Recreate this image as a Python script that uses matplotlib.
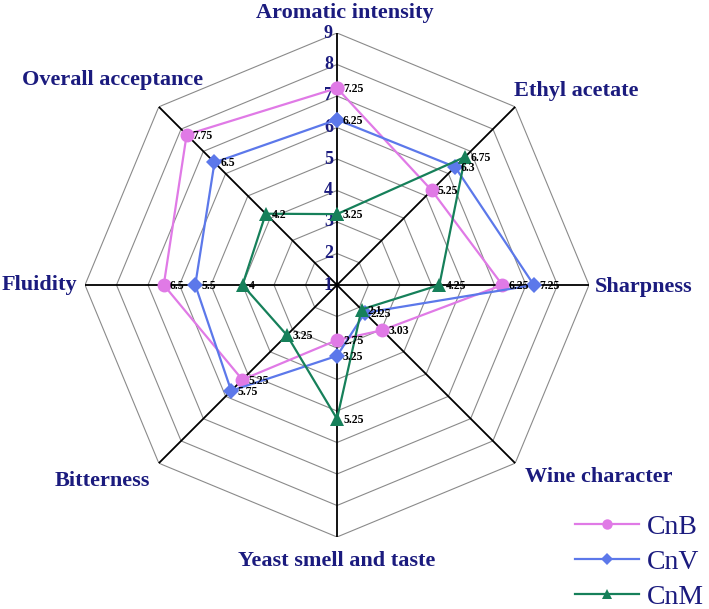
import matplotlib
matplotlib.use("Agg")
import matplotlib.pyplot as plt
import numpy as np

plt.rcParams['font.family'] = ['Liberation Serif', 'DejaVu Serif']

# data
categories = ['Aromatic intensity', 'Ethyl acetate', 'Sharpness', 'Wine character',
              'Yeast smell and taste', 'Bitterness', 'Fluidity', 'Overall acceptance']
cnb = [7.25, 5.25, 6.25, 3.03, 2.75, 5.25, 6.5, 7.75]
cnv = [6.25, 6.3, 7.25, 2.25, 3.25, 5.75, 5.5, 6.5]
cnm = [3.25, 6.75, 4.25, 2.1, 5.25, 3.25, 4, 4.2]
cnb_labels = ['7.25', '5.25', '6.25', '3.03', '2.75', '5.25', '6.5', '7.75']
cnv_labels = ['6.25', '6.3', '7.25', '2.25', '3.25', '5.75', '5.5', '6.5']
cnm_labels = ['3.25', '6.75', '4.25', '2.1', '5.25', '3.25', '4', '4.2']
ticks = [1, 2, 3, 4, 5, 6, 7, 8, 9]

navy = '#1B1B7E'
n = len(categories)
theta = np.arange(n) * 2 * np.pi / n
theta_c = np.append(theta, theta[0])

fig = plt.figure(figsize=(7.09, 6.09), dpi=100)
ax = fig.add_axes([85 / 709, 72 / 609, 504 / 709, 504 / 609], projection='polar')
ax.set_theta_zero_location('N')
ax.set_theta_direction(-1)
ax.set_ylim(1, 9)
ax.grid(False)
ax.spines['polar'].set_visible(False)
ax.set_xticks([])
ax.set_yticks([])
ax.patch.set_visible(False)

# octagon grid
for t in ticks[1:]:
    ax.plot(theta_c, [t] * (n + 1), color='#8a8a8a', lw=0.8, zorder=1)
for th in theta:
    ax.plot([th, th], [1, 9], color='black', lw=1.3, zorder=2)

# radial tick labels along the top spoke
for t in ticks:
    ax.annotate(str(t), xy=(0, t), xytext=(-4, 0), textcoords='offset pixels',
                ha='right', va='center', fontsize=13, fontweight='bold', color=navy, zorder=3)

# category labels (offsets in pixels from the outer vertex)
offsets = [(8, 20), (61, 16), (55, -2), (84, -14), (0, -24), (-56, -18), (-46, 0), (-46, 27)]
for th, lab, off in zip(theta, categories, offsets):
    ax.annotate(lab, xy=(th, 9), xytext=off, textcoords='offset pixels',
                ha='center', va='center', fontsize=16, fontweight='bold',
                color=navy, annotation_clip=False)

series = [
    ('CnB', cnb, cnb_labels, '#E07AE6', 'o', 10),
    ('CnV', cnv, cnv_labels, '#5C78EA', 'D', 8),
    ('CnM', cnm, cnm_labels, '#16805A', '^', 9.5),
]
for name, vals, labs, col, mk, ms in series:
    ax.plot(theta_c, vals + vals[:1], color=col, lw=1.6, marker=mk, ms=ms,
            markeredgewidth=0, label=name, zorder=4)
    for th, v, s in zip(theta, vals, labs):
        ax.annotate(s, xy=(th, v), xytext=(6, -1), textcoords='offset pixels',
                    ha='left', va='center', fontsize=8.5, fontweight='bold',
                    color='black', zorder=5)

leg = fig.legend(loc='center left', bbox_to_anchor=(575 / 709, 1 - 562 / 609),
                 frameon=False, fontsize=20, handlelength=2.3, labelspacing=0.35,
                 handletextpad=0.3, borderaxespad=0, borderpad=0, markerscale=0.75)
for txt in leg.get_texts():
    txt.set_color(navy)

fig.savefig('out.png', dpi=100)
